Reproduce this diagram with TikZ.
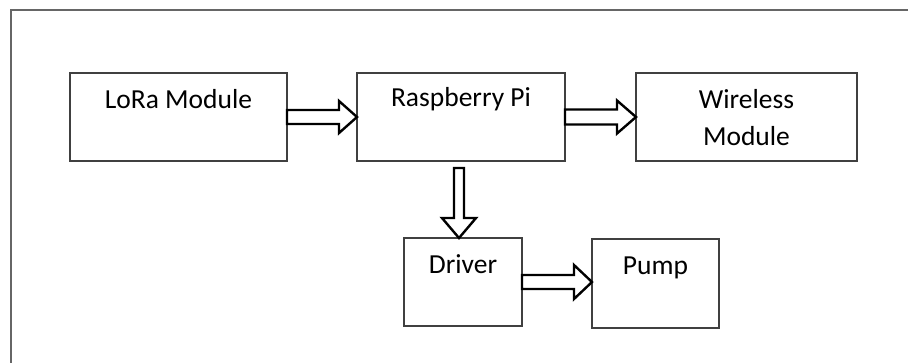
\documentclass[tikz,border=0pt]{standalone}
\usepackage{fontspec}
\setmainfont{Carlito}
\usetikzlibrary{calc}
\definecolor{boxgray}{HTML}{404040}
\definecolor{framegray}{HTML}{666666}
\newcommand\hblkarrow[5]{%
  \draw[blk] let \p1=(#1), \p2=(#2) in
    (\x1,\y1+#3) -- (\x2-#5,\y1+#3) -- (\x2-#5,\y1+#4) -- (\x2,\y1)
    -- (\x2-#5,\y1-#4) -- (\x2-#5,\y1-#3) -- (\x1,\y1-#3) -- cycle;}
\begin{document}
\begin{tikzpicture}[x=1pt,y=-1pt,
  box/.style={draw=boxgray, line width=1.4pt, fill=white, inner sep=0pt, outer sep=0pt, anchor=north west},
  lbl/.style={font=\fontsize{27.5}{33}\selectfont, anchor=base, inner sep=0pt, text=black},
  blk/.style={draw=black, line width=2.4pt, fill=white, line join=miter, miter limit=10}]
\useasboundingbox (0,0) rectangle (908,362);
\fill[white] (0,0) rectangle (908,362);
\draw[framegray, line width=1.3pt] (11,363) -- (11,10) -- (909,10);
% boxes
\node[box, minimum width=217pt, minimum height=88pt] (lora) at (70,73) {};
\node[box, minimum width=208pt, minimum height=88pt] (rpi) at (357,73) {};
\node[box, minimum width=221pt, minimum height=88pt] (wl) at (636,73) {};
\node[box, minimum width=118pt, minimum height=88pt] (drv) at (404,238) {};
\node[box, minimum width=127pt, minimum height=89pt] (pump) at (592,239) {};
% labels
\node[lbl] (tlora) at (178.5,108) {LoRa Module};
\node[lbl] (trpi) at (461,106) {Raspberry Pi};
\node[lbl] (twl1) at (746.5,108) {Wireless};
\node[lbl] (twl2) at (746.5,145) {Module};
\node[lbl] (tdrv) at (463,273) {Driver};
\node[lbl] (tpump) at (655.5,274) {Pump};
% block arrows
\hblkarrow{lora.east}{rpi.west}{7pt}{16pt}{18pt}
\hblkarrow{rpi.east}{wl.west}{7.5pt}{16.5pt}{19pt}
\hblkarrow{drv.east}{pump.west}{7pt}{17pt}{18pt}
\draw[blk] let \p1=($(rpi.south)+(-2,7)$), \p2=(drv.north) in
  (\x1-5pt,\y1) -- (\x1+5pt,\y1) -- (\x1+5pt,\y2+20pt) -- (\x1+17pt,\y2+20pt)
  -- (\x1,\y2) -- (\x1-17pt,\y2+20pt) -- (\x1-5pt,\y2+20pt) -- cycle;
\end{tikzpicture}
\end{document}
